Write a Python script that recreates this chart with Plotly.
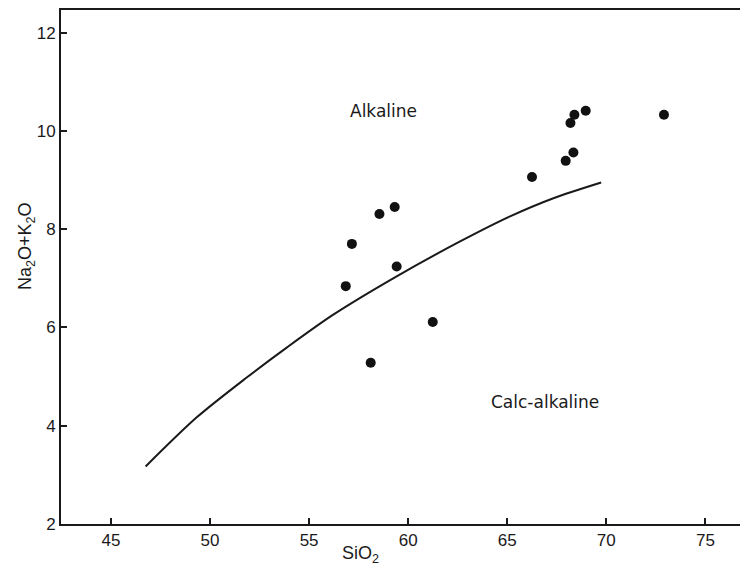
import plotly.graph_objects as go

# Sample data (SiO2 vs Na2O+K2O)
sio2 = [56.85, 57.16, 58.55, 59.32, 59.42, 58.11, 61.24, 66.25, 67.95, 68.34, 68.19, 68.39, 68.96, 72.91]
alkali = [6.84, 7.70, 8.31, 8.45, 7.24, 5.28, 6.11, 9.06, 9.39, 9.56, 10.16, 10.33, 10.41, 10.33]

# Alkaline / calc-alkaline dividing curve
curve_x = [46.75, 49.33, 51.85, 53.87, 56.22, 59.42, 62.62, 65.14, 67.33, 69.74]
curve_y = [3.17, 4.17, 4.98, 5.59, 6.26, 7.04, 7.75, 8.26, 8.63, 8.95]

x_ticks = [45, 50, 55, 60, 65, 70, 75]
y_ticks = [2, 4, 6, 8, 10, 12]

ink = "#1a1a1a"
font_family = "Liberation Sans, Arial, sans-serif"

fig = go.Figure()
fig.add_trace(go.Scatter(
    x=curve_x, y=curve_y, mode="lines",
    line=dict(color=ink, width=2, shape="spline", smoothing=0.8),
    hoverinfo="skip", showlegend=False,
))
fig.add_trace(go.Scatter(
    x=sio2, y=alkali, mode="markers",
    marker=dict(color="#111111", size=10),
    showlegend=False,
))

fig.add_annotation(x=58.73, y=10.41, text="Alkaline", showarrow=False,
                   font=dict(family="DejaVu Sans, sans-serif", size=17, color=ink))
fig.add_annotation(x=66.9, y=4.48, text="Calc-alkaline", showarrow=False,
                   font=dict(family="DejaVu Sans, sans-serif", size=17, color=ink))
fig.add_annotation(x=57.57, xref="x", y=-0.06, yref="paper", yanchor="middle",
                   text="SiO<sub>2</sub>", showarrow=False,
                   font=dict(family=font_family, size=18, color=ink))
fig.add_annotation(x=-0.05, xref="paper", y=7.65, yref="y", xanchor="center",
                   text="Na<sub>2</sub>O+K<sub>2</sub>O", textangle=-90, showarrow=False,
                   font=dict(family=font_family, size=18, color=ink))

fig.update_layout(
    width=740, height=563,
    margin=dict(l=53, r=0, t=0, b=47),
    paper_bgcolor="white", plot_bgcolor="white",
    font=dict(family=font_family, size=17, color=ink),
)
fig.update_xaxes(
    range=[42.48, 77.15], tickvals=x_ticks, ticktext=[str(v) for v in x_ticks],
    showgrid=False, zeroline=False, showline=True, linecolor=ink, linewidth=2,
    mirror=True, ticks="inside", ticklen=6, tickwidth=1.5, tickcolor=ink,
)
fig.update_yaxes(
    range=[2, 12.46], tickvals=y_ticks, ticktext=[str(v) for v in y_ticks],
    showgrid=False, zeroline=False, showline=True, linecolor=ink, linewidth=2,
    ticks="inside", ticklen=6, tickwidth=1.5, tickcolor=ink,
)

fig.write_html("out.html")
